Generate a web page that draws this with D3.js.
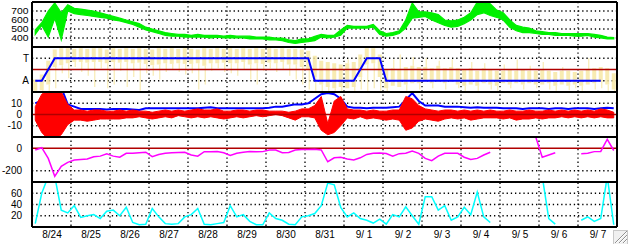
<!DOCTYPE html>
<html>
<head>
<meta charset="utf-8">
<script src="https://cdn.jsdelivr.net/npm/d3@7"></script>
<style>
  body { margin: 0; background: #fff; }
  svg { display: block; }
  text { font-family: "Liberation Sans", Arial, sans-serif; font-size: 10px; white-space: pre; }
</style>
</head>
<body>
<svg id="chart"></svg>
<script>
const svgWidth = 628, svgHeight = 244;

// ---- data (one value per 4-hour bin, 6 bins a day, 8/24 .. 9/7) ----
const dayLabels = ["8/24","8/25","8/26","8/27","8/28","8/29","8/30","8/31",
                   "9/ 1","9/ 2","9/ 3","9/ 4","9/ 5","9/ 6","9/ 7"];
const speedTicks = [700, 600, 500, 400];
const sectorTicks = [270, 90];
const sectorLabels = ["T", "A"];
const imfTicks = [10, 0, -10];
const dstTicks = [0, -200];
const aeTicks = [60, 40, 20];

// solar wind speed, low / high per bin
const speedLo = [
  440,540,410,620,380,700,
  670,660,650,640,630,620,
  600,590,570,550,520,490,
  470,450,430,420,420,410,
  410,410,410,400,410,400,
  400,400,400,390,390,390,
  380,380,370,350,340,350,
  360,370,410,400,410,430,
  510,510,510,510,520,440,
  420,430,450,510,620,630,
  640,600,570,540,520,530,
  560,600,660,680,650,630,
  600,520,480,460,460,450,
  440,440,430,430,430,420,
  420,430,410,400,390,390];
const speedHi = [
  490,570,700,790,680,770,
  730,720,710,700,680,660,
  640,620,600,580,560,520,
  500,480,460,450,440,440,
  430,440,430,430,430,420,
  430,420,420,420,410,410,
  410,400,400,380,370,390,
  390,420,440,430,430,490,
  540,530,530,530,550,480,
  450,460,480,600,790,690,
  690,680,660,600,590,600,
  630,680,800,800,780,710,
  680,600,540,520,510,480,
  470,460,460,450,450,450,
  450,450,440,430,410,405];

// IMF angle (deg): dense band low / high, and furthest stray point
const phiLo = [
  10,15,60,200,215,230,
  240,240,235,240,240,230,
  240,235,240,230,235,225,
  215,220,230,225,230,225,
  225,230,210,230,230,235,
  230,230,240,220,230,225,
  235,230,240,220,220,200,
  180,120,60,40,30,40,
  30,40,120,220,230,120,
  30,50,40,60,70,70,
  80,70,80,70,80,60,
  50,60,50,70,60,50,
  70,60,70,60,70,60,
  60,70,50,60,50,60,
  50,60,70,80,60,20];
const phiHi = [
  100,140,250,340,350,350,
  345,350,345,350,350,340,
  350,345,350,345,350,345,
  340,350,345,350,345,350,
  345,340,350,345,350,345,
  350,345,350,345,350,345,
  350,345,350,345,345,340,
  330,290,250,240,230,220,
  230,240,300,350,350,300,
  180,190,180,200,210,200,
  200,190,210,190,200,190,
  180,190,170,190,180,170,
  170,180,170,180,170,170,
  180,170,160,170,170,160,
  170,180,190,200,190,150];
const phiTail = [
  0,0,5,30,150,110,
  200,160,130,40,190,30,
  60,170,40,120,10,150,
  130,100,160,180,160,140,
  150,20,60,170,190,160,
  150,130,180,100,60,170,
  190,160,180,130,100,60,
  20,10,5,5,10,5,
  260,10,20,10,30,10,
  5,260,300,10,280,20,
  270,30,250,20,260,30,
  10,240,10,230,20,10,
  220,30,260,20,210,30,
  240,20,10,200,15,30,
  10,270,20,30,10,0];
// sector polarity (T = 270, A = 90)
const sector = [
  90,90,180,270,270,270,
  270,270,270,270,270,270,
  270,270,270,270,270,270,
  270,270,270,270,270,270,
  270,270,270,270,270,270,
  270,270,270,270,270,270,
  270,270,270,270,270,270,
  270,90,90,90,90,90,
  90,90,180,270,270,270,
  90,90,90,90,90,90,
  90,90,90,90,90,90,
  90,90,90,90,90,90,
  90,90,90,90,90,90,
  90,90,90,90,90,90,
  90,90,90,90,null,null];

// IMF |B| and Bz range (nT)
const bt = [
  10,12,24,24,24,9,
  7,5,5,5,5,4.5,
  5,5,5,4.5,4,5.5,
  5.5,5.5,5.5,5.5,5.5,5.5,
  5.5,5.5,6,6.5,5.5,5.5,
  5.5,5.5,5.5,5.5,5.5,5.5,
  6,7,7,8,9,9,
  10,14,18,19,18,14,
  7,6,6,5.5,6,6,
  6,6.5,7,13,19,12,
  8,8,8,7,7,7,
  6.5,6,6.5,6,6,6,
  5.5,5.5,5.5,5,5.5,5.5,
  5.5,5,5.5,5.5,5,5.5,
  5.5,5.5,5,5.5,6,5.5];
const bzLo = [
  -5,-16,-22,-22,-18,-9,
  -5,-5,-6,-5,-4,-4,
  -4,-4,-3,-3,-2,-3,
  -4,-3,-2,-3,-1,-2,
  -3,-2,-3,-2,-3,-4,
  -3,-2,-3,-2,-1,-2,
  -1,0,-1,-3,-5,-2,
  -2,-3,-14,-18,-16,-10,
  -3,-4,-2,-4,-3,-4,
  -5,-4,-5,-14,-12,-6,
  -4,-5,-6,-4,-3,-4,
  -3,-5,-4,-3,-3,-3,
  -4,-3,-5,-4,-4,-3,
  -4,-3,-3,-2,-3,-2,
  -3,-2,-3,-2,-3,-3];
const bzHi = [
  7,18,22,22,20,9,
  4,4,3,4,4,3,
  3,4,3,4,3,3,
  2,3,4,3,4,3,
  4,5,4,4,5,3,
  3,4,4,3,4,4,
  3,3,3,2,3,5,
  5,8,16,-8,12,16,
  5,4,4,3,4,3,
  3,4,4,16,14,8,
  5,4,3,4,4,3,
  4,3,4,3,4,3,
  3,4,3,3,4,3,
  3,4,3,4,3,4,
  3,4,3,5,4,2];

// Dst (nT)
const dst = [
  -15,5,-90,-250,-160,-125,
  -105,-100,-95,-75,-70,-50,
  -70,-80,-45,-45,-40,-35,
  -75,-55,-45,-40,-38,-35,
  -60,-70,-30,-30,-28,-40,
  -65,-45,-35,-30,-32,-30,
  -15,-15,-40,-38,-15,-12,
  -12,-10,-15,-120,-85,-80,
  -95,-105,-85,-55,-45,-42,
  -47,-70,-48,-45,-25,-45,
  -90,-110,-70,-45,-45,-45,
  -80,-100,-90,-60,-35,null,
  null,null,null,null,null,100,
  -80,-60,-40,null,null,null,
  -48,-45,-30,-28,80,-20];

// bottom panel index
const ae = [
  6,60,90,90,30,25,
  38,17,20,22,15,28,
  30,20,35,8,4,5,
  33,18,6,5,6,18,
  22,33,5,4,6,8,
  38,18,22,10,4,4,
  25,15,12,5,4,18,
  20,24,38,78,75,35,
  18,25,15,12,7,14,
  5,22,18,36,20,5,
  54,54,30,38,12,18,
  35,22,62,18,8,null,
  null,null,null,null,null,null,
  90,15,5,null,null,null,
  12,18,10,15,90,4];

// ---- layout ----
const plotLeft = 32, plotRight = 617;
const panelTops = [2, 47, 92, 137, 182];
const panelH = 45;
const binHours = 4;
const startDate = new Date(Date.UTC(2005, 7, 24));
const endDate = d3.utcDay.offset(startDate, dayLabels.length);

const svg = d3.select("#chart")
    .attr("width", svgWidth)
    .attr("height", svgHeight);

svg.append("rect")
    .attr("width", svgWidth)
    .attr("height", svgHeight)
    .attr("fill", "white");

const x = d3.scaleUtc()
    .domain([startDate, endDate])
    .range([plotLeft, plotRight]);

const binTimes = speedLo.map((d, i) => d3.utcMinute.offset(startDate, (binHours * i + binHours / 2) * 60));

const yOf = (k, domain) => d3.scaleLinear().domain(domain).range([panelTops[k] + panelH, panelTops[k]]);
const ySpeed = yOf(0, [300, 800]);
const yPhi = yOf(1, [0, 360]);
const yB = yOf(2, [-20, 20]);
const yDst = yOf(3, [-300, 100]);
const yAe = yOf(4, [0, 80]);

const panels = [
  {y: ySpeed, ticks: speedTicks, grid: speedTicks, pad: 3, fmt: d => d},
  {y: yPhi, ticks: sectorTicks, grid: sectorTicks, pad: 3, fmt: (d, i) => sectorLabels[i]},
  {y: yB, ticks: imfTicks, grid: [10, -10], pad: 10, fmt: d => d},
  {y: yDst, ticks: dstTicks, grid: [-200], pad: 10, fmt: d => d},
  {y: yAe, ticks: aeTicks, grid: aeTicks, pad: 10, fmt: d => d}
];

const defs = svg.append("defs");
panels.forEach((p, k) => {
  defs.append("clipPath").attr("id", "clip" + k)
    .append("rect")
    .attr("x", plotLeft).attr("y", panelTops[k])
    .attr("width", plotRight - plotLeft).attr("height", panelH);
});

// dotted grid
const dayLines = d3.utcDay.range(d3.utcDay.offset(startDate, 1), endDate);
const gridG = svg.append("g")
    .attr("stroke", "black")
    .attr("stroke-width", 1.3)
    .attr("stroke-dasharray", "1.3,2.9");

panels.forEach((p, k) => {
  gridG.selectAll(".h" + k)
    .data(p.grid)
    .enter()
    .append("line")
    .attr("x1", plotLeft).attr("x2", plotRight)
    .attr("y1", d => p.y(d)).attr("y2", d => p.y(d));
});
gridG.selectAll(".v")
    .data(dayLines)
    .enter()
    .append("line")
    .attr("x1", d => x(d)).attr("x2", d => x(d))
    .attr("y1", panelTops[0]).attr("y2", panelTops[4] + panelH);

// panel 1: speed
const speedRows = binTimes.map((t, i) => ({t, lo: speedLo[i], hi: speedHi[i]}));
svg.append("path")
    .datum(speedRows)
    .attr("clip-path", "url(#clip0)")
    .attr("fill", "#00f000")
    .attr("stroke", "#00f000")
    .attr("stroke-width", 1.2)
    .attr("d", d3.area().x(d => x(d.t)).y0(d => ySpeed(d.lo)).y1(d => ySpeed(d.hi)));

// panel 2: IMF angle + sector
const phiRows = binTimes.map((t, i) => ({t, lo: phiLo[i], hi: phiHi[i], tail: phiTail[i]}));
const phiG = svg.append("g").attr("clip-path", "url(#clip1)").attr("opacity", 0.8);
phiG.selectAll(".phi")
    .data(phiRows)
    .enter()
    .append("rect")
    .attr("x", d => x(d.t) - 2)
    .attr("width", 4)
    .attr("y", d => yPhi(d.hi))
    .attr("height", d => yPhi(d.lo) - yPhi(d.hi))
    .attr("fill", "#f7e7a0");
phiG.selectAll(".tail")
    .data(phiRows)
    .enter()
    .append("line")
    .attr("x1", d => x(d.t) + 1).attr("x2", d => x(d.t) + 1)
    .attr("y1", d => yPhi(d.tail < d.lo ? d.lo : d.hi))
    .attr("y2", d => yPhi(d.tail))
    .attr("stroke", "#f7e7a0")
    .attr("stroke-width", 1.2);

svg.append("line")
    .attr("x1", plotLeft).attr("x2", plotRight)
    .attr("y1", yPhi(180)).attr("y2", yPhi(180))
    .attr("stroke", "#b00000").attr("stroke-width", 1.5);

svg.append("path")
    .datum(binTimes.map((t, i) => ({t, v: sector[i]})))
    .attr("fill", "none")
    .attr("stroke", "#0000ff")
    .attr("stroke-width", 2)
    .attr("d", d3.line().defined(d => d.v != null).x(d => x(d.t)).y(d => yPhi(d.v)));

// panel 3: Bt and Bz
const bG = svg.append("g").attr("clip-path", "url(#clip2)");
bG.append("path")
    .datum(binTimes.map((t, i) => ({t, v: bt[i]})))
    .attr("fill", "none")
    .attr("stroke", "#0000ff")
    .attr("stroke-width", 2)
    .attr("d", d3.line().x(d => x(d.t)).y(d => yB(d.v)));
bG.append("path")
    .datum(binTimes.map((t, i) => ({t, lo: bzLo[i], hi: bzHi[i]})))
    .attr("fill", "#ff0000")
    .attr("stroke", "#ff0000")
    .attr("stroke-width", 1)
    .attr("d", d3.area().x(d => x(d.t)).y0(d => yB(d.lo)).y1(d => yB(d.hi)));
svg.append("line")
    .attr("x1", plotLeft).attr("x2", plotRight)
    .attr("y1", yB(0)).attr("y2", yB(0))
    .attr("stroke", "#b00000").attr("stroke-width", 1.5);

// panel 4: Dst
svg.append("line")
    .attr("x1", plotLeft).attr("x2", plotRight)
    .attr("y1", yDst(0)).attr("y2", yDst(0))
    .attr("stroke", "#b00000").attr("stroke-width", 1.5);
svg.append("path")
    .datum(binTimes.map((t, i) => ({t, v: dst[i]})))
    .attr("clip-path", "url(#clip3)")
    .attr("fill", "none")
    .attr("stroke", "#ff00ff")
    .attr("stroke-width", 1.5)
    .attr("d", d3.line().defined(d => d.v != null).x(d => x(d.t)).y(d => yDst(d.v)));

// panel 5
svg.append("path")
    .datum(binTimes.map((t, i) => ({t, v: ae[i]})))
    .attr("clip-path", "url(#clip4)")
    .attr("fill", "none")
    .attr("stroke", "#00ffff")
    .attr("stroke-width", 1.5)
    .attr("d", d3.line().defined(d => d.v != null).x(d => x(d.t)).y(d => yAe(d.v)));

// frames
const frameG = svg.append("g").attr("stroke", "black").attr("stroke-width", 2);
frameG.selectAll(".hb")
    .data(panelTops.concat([panelTops[4] + panelH]))
    .enter()
    .append("line")
    .attr("x1", plotLeft).attr("x2", plotRight)
    .attr("y1", d => d).attr("y2", d => d);
frameG.selectAll(".vb")
    .data([plotLeft, plotRight])
    .enter()
    .append("line")
    .attr("x1", d => d).attr("x2", d => d)
    .attr("y1", panelTops[0]).attr("y2", panelTops[4] + panelH);

// y labels
panels.forEach((p, k) => {
  const g = svg.append("g")
      .attr("transform", `translate(${plotLeft},0)`)
      .call(d3.axisLeft(p.y).tickValues(p.ticks).tickSize(0).tickPadding(p.pad).tickFormat(p.fmt));
  g.select(".domain").remove();
  g.selectAll("text").attr("fill", "black")
      .style("font-size", k === 0 ? "9px" : "10px")
      .style("font-family", "Liberation Sans, Arial, sans-serif");
  if (k === 0) {
    // tight stack: stretch glyphs to match the bitmap font height
    g.selectAll(".tick text").attr("transform", "scale(1.15,1)");
  }
});

// x labels at noon
const noonTimes = dayLabels.map((d, i) => d3.utcHour.offset(startDate, 24 * i + 12));
const xg = svg.append("g")
    .attr("transform", `translate(0,${panelTops[4] + panelH})`)
    .call(d3.axisBottom(x).tickValues(noonTimes).tickSize(0).tickPadding(4).tickFormat((d, i) => dayLabels[i]));
xg.select(".domain").remove();
xg.selectAll("text").attr("fill", "black").style("font-size", "10px").style("font-family", "Liberation Sans, Arial, sans-serif");

// window resize grip
const grip = svg.append("g").attr("stroke-width", 1);
grip.append("rect").attr("x", 613.5).attr("y", 230.5).attr("width", 14).attr("height", 14)
    .attr("fill", "#f0f0f0").attr("stroke", "#c8c8c8");
[4, 8, 12].forEach(o => {
  grip.append("line").attr("x1", 627 - o).attr("y1", 243).attr("x2", 627).attr("y2", 243 - o).attr("stroke", "#909090");
  grip.append("line").attr("x1", 628 - o).attr("y1", 243).attr("x2", 627).attr("y2", 244 - o).attr("stroke", "white");
});
</script>
</body>
</html>
